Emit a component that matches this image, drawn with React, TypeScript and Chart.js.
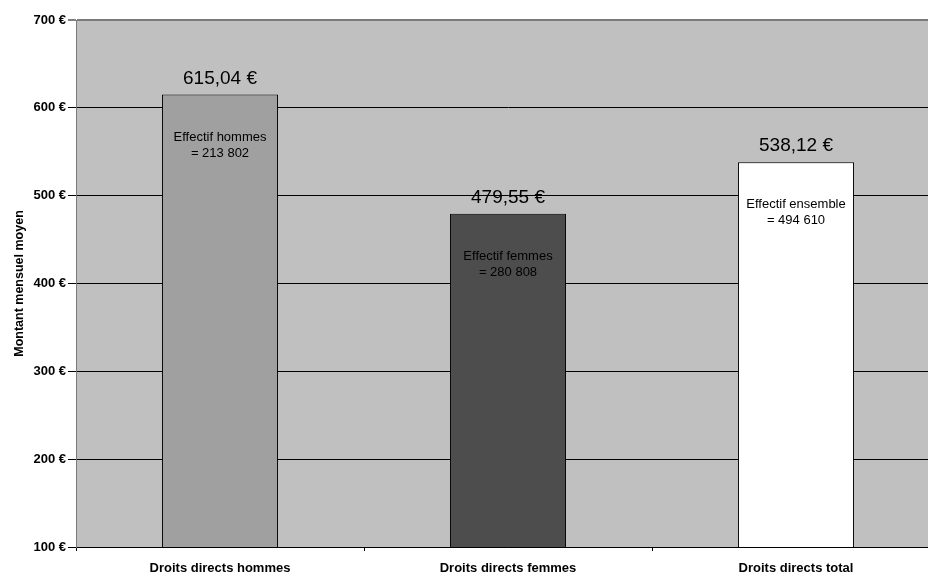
import React, { useEffect, useRef } from "react";
import { Chart, registerables } from "chart.js";

Chart.register(...registerables);

const categories = ["Droits directs hommes", "Droits directs femmes", "Droits directs total"];
const values = [615.04, 479.55, 538.12];
const effectifNames = ["Effectif hommes", "Effectif femmes", "Effectif ensemble"];
const effectifCounts = [213802, 280808, 494610];
const yTicks = [100, 200, 300, 400, 500, 600, 700];

const BAR_COLORS = ["#A0A0A0", "#4D4D4D", "#FFFFFF"];
const FONT = "'Liberation Sans', Arial, sans-serif";

const fmtEuro = (v: number) => v.toFixed(2).replace(".", ",") + " €";
const fmtInt = (n: number) => String(n).replace(/\B(?=(\d{3})+(?!\d))/g, " ");

const bgPlugin = {
  id: "plotBg",
  beforeDraw(chart: any) {
    const { ctx, chartArea } = chart;
    ctx.save();
    ctx.fillStyle = "#C0C0C0";
    ctx.fillRect(chartArea.left, chartArea.top, chartArea.right - chartArea.left, chartArea.bottom - chartArea.top);
    ctx.restore();
  },
};

const labelPlugin = {
  id: "barLabels",
  afterDatasetsDraw(chart: any) {
    const { ctx } = chart;
    const meta = chart.getDatasetMeta(0);
    ctx.save();
    ctx.fillStyle = "#000";
    ctx.textAlign = "center";
    ctx.textBaseline = "alphabetic";
    meta.data.forEach((bar: any, i: number) => {
      const x = bar.x;
      const top = bar.y;
      ctx.font = `19px ${FONT}`;
      ctx.fillText(fmtEuro(values[i]), x, top - 11);
      ctx.font = `13px ${FONT}`;
      ctx.fillText(effectifNames[i], x, top + 46);
      ctx.fillText("= " + fmtInt(effectifCounts[i]), x, top + 62);
    });
    ctx.restore();
  },
};

export default function App() {
  const ref = useRef<HTMLCanvasElement>(null);
  useEffect(() => {
    if (!ref.current) return;
    const chart = new Chart(ref.current, {
      type: "bar",
      data: {
        labels: categories,
        datasets: [
          {
            data: values,
            backgroundColor: BAR_COLORS,
            borderColor: "#000",
            borderWidth: 1,
            barPercentage: 0.403,
            categoryPercentage: 1,
          },
        ],
      },
      options: {
        responsive: false,
        animation: false,
        devicePixelRatio: 1,
        layout: { padding: { left: 0, right: 10, top: 20, bottom: 0 } },
        plugins: { legend: { display: false }, tooltip: { enabled: false } },
        scales: {
          x: {
            offset: true,
            grid: {
              offset: true,
              drawOnChartArea: false,
              drawTicks: true,
              tickLength: 4,
              tickColor: "#000",
            },
            border: { color: "#000", width: 1 },
            ticks: {
              color: "#000",
              padding: 10,
              maxRotation: 0,
              font: { family: FONT, size: 13, weight: "bold" },
            },
            afterFit: (s: any) => {
              s.height = 28;
            },
          },
          y: {
            min: 100,
            max: 700,
            afterBuildTicks: (s: any) => {
              s.ticks = yTicks.map((v) => ({ value: v }));
            },
            grid: {
              color: (c: any) => (c.tick && c.tick.value === 700 ? "#7A7A7A" : "#000"),
              lineWidth: (c: any) => (c.tick && c.tick.value === 700 ? 2 : 1),
              tickColor: "#000",
              tickWidth: 1,
              tickLength: 8,
            },
            border: { color: "#7A7A7A", width: 1 },
            ticks: {
              color: "#000",
              padding: 2,
              font: { family: FONT, size: 13, weight: "bold" },
              callback: (v: any) => v + " €",
            },
            title: {
              display: true,
              text: "Montant mensuel moyen",
              color: "#000",
              font: { family: FONT, size: 12.5, weight: "bold" },
              padding: { top: 12, bottom: 0 },
            },
            afterFit: (s: any) => {
              s.width = 76;
            },
          },
        },
      },
      plugins: [bgPlugin, labelPlugin],
    });
    return () => chart.destroy();
  }, []);
  return (
    <div style={{ position: "absolute", left: 0, top: 0, width: 928, height: 575, overflow: "hidden", background: "#fff" }}>
      <canvas ref={ref} width={950} height={575} style={{ display: "block" }} />
    </div>
  );
}
